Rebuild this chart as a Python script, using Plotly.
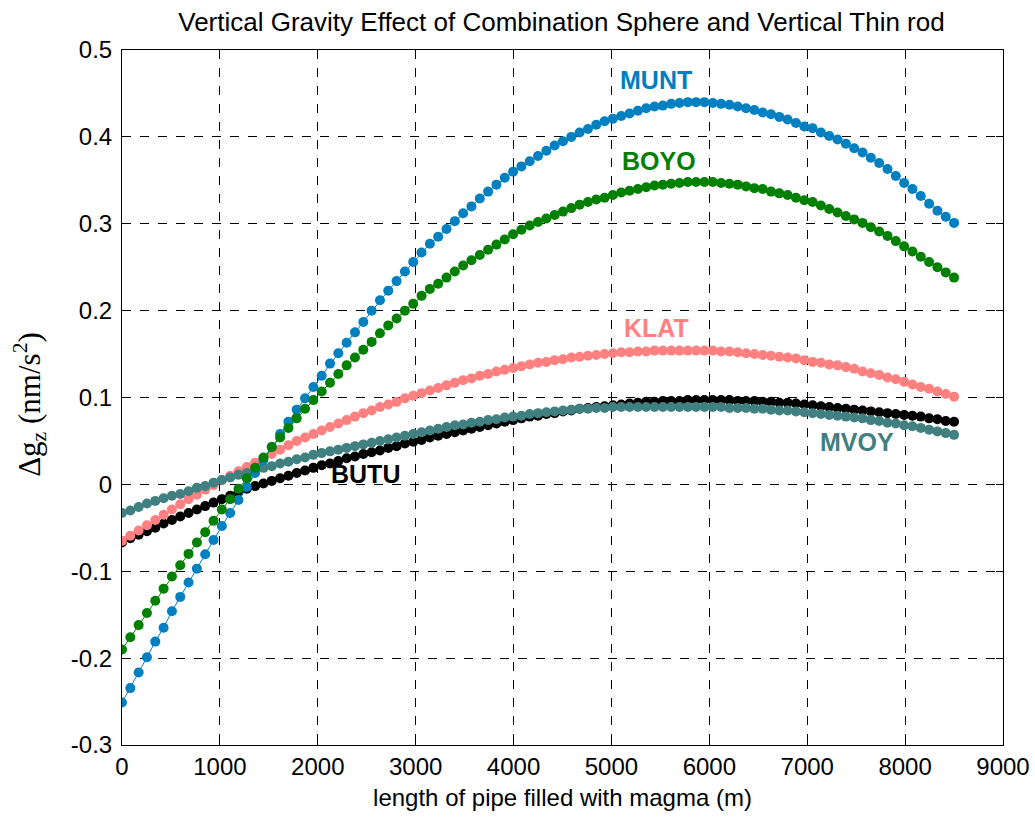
import plotly.graph_objects as go

# sample positions along the pipe (m)
length_m = list(range(0, 8501, 85))

MUNT = [-0.251, -0.2345, -0.2165, -0.199, -0.181, -0.165, -0.146, -0.1295, -0.113, -0.097,
        -0.0805, -0.064, -0.048, -0.033, -0.018, -0.003, 0.013, 0.028, 0.043, 0.058,
        0.072, 0.086, 0.099, 0.112, 0.125, 0.139, 0.151, 0.163, 0.175, 0.187,
        0.200, 0.212, 0.223, 0.234, 0.245, 0.256, 0.267, 0.277, 0.285, 0.294,
        0.303, 0.312, 0.320, 0.329, 0.337, 0.345, 0.353, 0.360, 0.366, 0.372,
        0.378, 0.384, 0.390, 0.395, 0.400, 0.405, 0.409, 0.414, 0.418, 0.421,
        0.424, 0.427, 0.430, 0.433, 0.435, 0.436, 0.438, 0.439, 0.440, 0.440,
        0.440, 0.439, 0.438, 0.437, 0.435, 0.433, 0.431, 0.428, 0.426, 0.423,
        0.420, 0.416, 0.412, 0.410, 0.405, 0.401, 0.397, 0.392, 0.387, 0.382,
        0.376, 0.370, 0.363, 0.355, 0.347, 0.340, 0.332, 0.323, 0.315, 0.308,
        0.301]

BOYO = [-0.190, -0.176, -0.162, -0.148, -0.134, -0.120, -0.106, -0.093, -0.080, -0.067,
        -0.055, -0.042, -0.029, -0.017, -0.005, 0.007, 0.019, 0.031, 0.043, 0.054,
        0.065, 0.076, 0.087, 0.097, 0.107, 0.117, 0.127, 0.137, 0.146, 0.155,
        0.164, 0.174, 0.183, 0.191, 0.200, 0.208, 0.217, 0.225, 0.231, 0.238,
        0.245, 0.252, 0.258, 0.264, 0.270, 0.276, 0.282, 0.288, 0.293, 0.298,
        0.302, 0.306, 0.310, 0.314, 0.318, 0.322, 0.325, 0.328, 0.330, 0.333,
        0.336, 0.338, 0.340, 0.342, 0.344, 0.345, 0.346, 0.347, 0.348, 0.348,
        0.348, 0.348, 0.347, 0.346, 0.345, 0.343, 0.341, 0.340, 0.337, 0.335,
        0.333, 0.330, 0.327, 0.325, 0.321, 0.317, 0.313, 0.309, 0.305, 0.301,
        0.296, 0.291, 0.286, 0.280, 0.274, 0.268, 0.262, 0.256, 0.250, 0.244,
        0.238]

KLAT = [-0.065, -0.059, -0.053, -0.047, -0.041, -0.035, -0.029, -0.023, -0.017, -0.012,
        -0.006, -0.001, 0.005, 0.010, 0.015, 0.020, 0.025, 0.030, 0.035, 0.040,
        0.045, 0.050, 0.054, 0.058, 0.062, 0.066, 0.070, 0.074, 0.078, 0.082,
        0.085, 0.089, 0.092, 0.095, 0.099, 0.102, 0.105, 0.108, 0.111, 0.114,
        0.117, 0.120, 0.122, 0.125, 0.127, 0.130, 0.132, 0.134, 0.136, 0.138,
        0.140, 0.141, 0.143, 0.144, 0.146, 0.147, 0.148, 0.149, 0.150, 0.151,
        0.152, 0.152, 0.153, 0.153, 0.154, 0.154, 0.154, 0.154, 0.154, 0.154,
        0.154, 0.154, 0.153, 0.153, 0.152, 0.151, 0.150, 0.149, 0.148, 0.147,
        0.146, 0.145, 0.143, 0.141, 0.140, 0.138, 0.137, 0.135, 0.133, 0.130,
        0.128, 0.126, 0.123, 0.121, 0.118, 0.115, 0.112, 0.110, 0.107, 0.104,
        0.101]

BUTU = [-0.067, -0.062, -0.058, -0.054, -0.050, -0.045, -0.041, -0.037, -0.033, -0.029,
        -0.025, -0.021, -0.017, -0.013, -0.009, -0.005, -0.002, 0.001, 0.004, 0.007,
        0.010, 0.013, 0.016, 0.019, 0.022, 0.024, 0.027, 0.030, 0.032, 0.035,
        0.037, 0.039, 0.042, 0.044, 0.047, 0.049, 0.051, 0.054, 0.056, 0.058,
        0.060, 0.062, 0.064, 0.066, 0.068, 0.070, 0.072, 0.074, 0.076, 0.078,
        0.079, 0.081, 0.082, 0.084, 0.085, 0.087, 0.088, 0.089, 0.090, 0.091,
        0.092, 0.093, 0.094, 0.095, 0.095, 0.096, 0.096, 0.096, 0.097, 0.097,
        0.097, 0.097, 0.097, 0.097, 0.096, 0.096, 0.096, 0.095, 0.095, 0.094,
        0.094, 0.093, 0.092, 0.091, 0.090, 0.089, 0.088, 0.087, 0.086, 0.085,
        0.084, 0.083, 0.082, 0.081, 0.080, 0.079, 0.078, 0.076, 0.075, 0.073,
        0.072]

MVOY = [-0.033, -0.030, -0.026, -0.022, -0.019, -0.016, -0.013, -0.011, -0.008, -0.004,
        -0.002, 0.002, 0.005, 0.008, 0.011, 0.013, 0.016, 0.019, 0.021, 0.024,
        0.026, 0.029, 0.031, 0.034, 0.036, 0.038, 0.040, 0.042, 0.044, 0.046,
        0.048, 0.050, 0.052, 0.054, 0.056, 0.058, 0.060, 0.062, 0.064, 0.066,
        0.068, 0.069, 0.071, 0.072, 0.074, 0.075, 0.077, 0.078, 0.079, 0.081,
        0.082, 0.083, 0.084, 0.085, 0.086, 0.087, 0.087, 0.088, 0.088, 0.089,
        0.089, 0.089, 0.089, 0.089, 0.089, 0.089, 0.089, 0.089, 0.089, 0.089,
        0.089, 0.089, 0.089, 0.088, 0.088, 0.088, 0.087, 0.087, 0.086, 0.085,
        0.085, 0.084, 0.083, 0.082, 0.081, 0.080, 0.079, 0.078, 0.077, 0.076,
        0.074, 0.073, 0.071, 0.070, 0.068, 0.067, 0.065, 0.063, 0.061, 0.059,
        0.057]

x_ticks = [0, 1000, 2000, 3000, 4000, 5000, 6000, 7000, 8000, 9000]
y_ticks = [-0.3, -0.2, -0.1, 0, 0.1, 0.2, 0.3, 0.4, 0.5]
y_tick_text = ["-0.3", "-0.2", "-0.1", "0", "0.1", "0.2", "0.3", "0.4", "0.5"]

series = [
    ("BUTU", BUTU, "#000000"),
    ("KLAT", KLAT, "#FF8080"),
    ("MVOY", MVOY, "#408080"),
    ("MUNT", MUNT, "#0080C0"),
    ("BOYO", BOYO, "#008000"),
]

# label positions (x, y) in data units
label_pos = {
    "MUNT": (5460, 0.466),
    "BOYO": (5490, 0.372),
    "KLAT": (5460, 0.180),
    "BUTU": (2490, 0.0115),
    "MVOY": (7505, 0.049),
}

fig = go.Figure()
for name, vals, col in series:
    fig.add_trace(go.Scatter(
        x=length_m, y=vals, mode="lines+markers", name=name,
        line=dict(color=col, width=1),
        marker=dict(color=col, size=10, symbol="circle"),
        showlegend=False,
    ))
    lx, ly = label_pos[name]
    fig.add_annotation(x=lx, y=ly, text="<b>%s</b>" % name, showarrow=False,
                       font=dict(family="Liberation Sans, Arial", size=25, color=col),
                       xanchor="center", yanchor="middle")

axis_common = dict(
    showline=True, linecolor="black", linewidth=1, mirror="ticks",
    ticks="inside", ticklen=7, tickcolor="black",
    showgrid=True, gridcolor="black", gridwidth=1, griddash="dash",
    zeroline=False, automargin=False,
    tickfont=dict(family="Liberation Sans, Arial", size=24, color="black"),
)

fig.update_xaxes(range=[0, 9000], tickvals=x_ticks,
                 title=dict(text="length of pipe filled with magma (m)",
                            font=dict(family="Liberation Sans, Arial", size=24, color="black"),
                            standoff=10),
                 **axis_common)
fig.update_yaxes(range=[-0.3, 0.5], tickvals=y_ticks, ticktext=y_tick_text,
                 ticklabelstandoff=4,
                 **axis_common)

fig.add_annotation(xref="paper", yref="paper", x=-0.104, y=0.49,
                   text="Δg<sub>z</sub> (nm/s<sup>2</sup>)", textangle=-90, showarrow=False,
                   font=dict(family="Liberation Serif, Times New Roman", size=31, color="black"),
                   xanchor="center", yanchor="middle")

fig.update_layout(
    width=1035, height=820,
    margin=dict(l=122, r=32, t=50, b=75),
    paper_bgcolor="white", plot_bgcolor="white",
    title=dict(text="Vertical Gravity Effect of Combination Sphere and Vertical Thin rod",
               x=0.5425, xanchor="center", y=0.973, yanchor="middle",
               font=dict(family="Liberation Sans, Arial", size=26, color="black")),
)

fig.write_html("out.html")
